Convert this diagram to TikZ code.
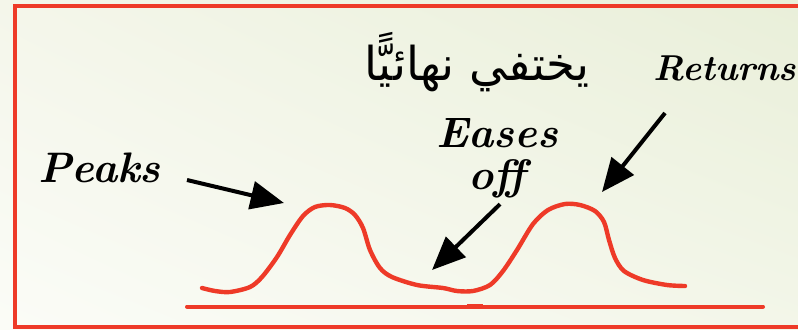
\documentclass[tikz,border=0pt]{standalone}
\usepackage{fontspec}
\newfontfamily\arabicfont[Script=Arabic]{DejaVu Sans}
\TeXXeTstate=1
\usetikzlibrary{arrows.meta,positioning,shadings}
\definecolor{inkred}{RGB}{238,58,40}
\definecolor{paperA}{RGB}{244,246,234}
\definecolor{paperB}{RGB}{233,239,217}
\definecolor{paperC}{RGB}{251,252,247}
\definecolor{paperD}{RGB}{243,246,233}
\tikzset{
      handtext/.style={
        font=\fontsize{32}{31.5}\selectfont\bfseries\itshape,
        inner sep=0pt,
        align=center
      },
      pointer/.style={
        line width=3pt,
        -{Triangle[length=25pt,width=21pt]}
      },
      redstroke/.style={
        draw=inkred,
        line width=3.3pt,
        line cap=round,
        line join=round
      }
    }

\begin{document}
\begin{tikzpicture}[x=0.75pt,y=-0.75pt]
    \useasboundingbox (0,0) rectangle (798,329);
    \clip (0,0) rectangle (798,329);
    \shade[upper left=paperA, upper right=paperB, lower left=paperC, lower right=paperD] (0,0) rectangle (798,329);
    \draw[inkred, line width=2.3pt] (15,6) rectangle (812,327);
    \node[handtext, anchor=base west] (peaks) at (38,182) {Peaks};
    \node[handtext, anchor=north] (eases) at (497,118) {Eases\\off};
    \node[handtext, font=\fontsize{27}{27}\selectfont\bfseries\itshape, anchor=base west] (returns) at (653,80) {Returns};
    \node[font=\arabicfont\fontsize{35}{35}\selectfont, inner sep=0pt, anchor=base] (gone) at (477,80) {\beginR يختفي نهائيًّا\endR};
    \coordinate (peaktip) at (284,203);
    \coordinate (dip) at (432,270);
    \coordinate (backtip) at (602,192);
    \draw[pointer] ([shift={(26,-2)}]peaks.base east) -- (peaktip);
    \draw[pointer] ([shift={(3,6)}]eases.south) -- (dip);
    \draw[pointer] ([shift={(12,33)}]returns.base west) -- (backtip);
    \draw[redstroke] plot[smooth] coordinates {(202,288) (215,291) (230,292) (250,287) (262,277) (277,257) (290,235) (303,216) (315,207) (330,205) (345,208) (355,215) (363,228) (370,250) (380,268) (392,277) (417,285) (443,288) (457,291) (473,291) (490,285) (503,271) (517,250) (533,224) (548,210) (565,204) (580,205) (595,211) (604,222) (609,240) (615,258) (624,271) (643,280) (667,285) (685,286)};
    \draw[redstroke, line width=3pt] (187,306.5) -- (763,306.5);
    \draw[redstroke, line width=4pt, line cap=butt] (467,306.5) -- (483,306.5);
    \end{tikzpicture}
\end{document}
